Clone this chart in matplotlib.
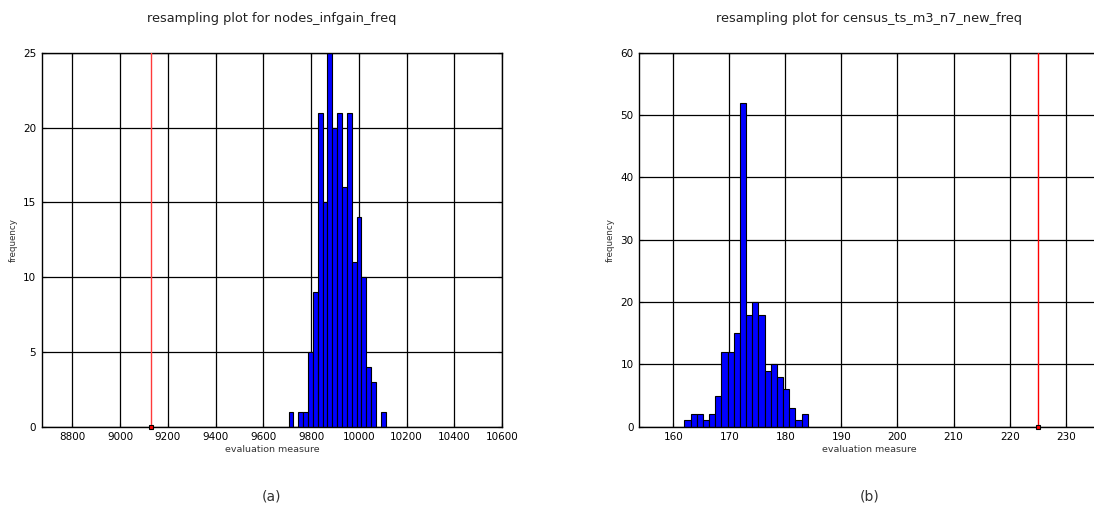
import numpy as np
import matplotlib.pyplot as plt

# histogram counts (20 bins each)
nodes_counts = [1, 0, 1, 1, 5, 9, 21, 15, 25, 20, 21, 16, 21, 11, 14, 10, 4, 3, 0, 1]
nodes_start, nodes_width = 9706, 20.35
nodes_value = 9128

census_counts = [1, 2, 2, 1, 2, 5, 12, 12, 15, 52, 18, 20, 18, 9, 10, 8, 6, 3, 1, 2]
census_start, census_width = 162.0, 1.1
census_value = 225

titles = ['resampling plot for nodes_infgain_freq',
          'resampling plot for census_ts_m3_n7_new_freq']
panel_labels = ['(a)', '(b)']

fig = plt.figure(figsize=(10.94, 5.13), dpi=100)
ax1 = fig.add_axes([0.0381, 0.1682, 0.4208, 0.7290])
ax2 = fig.add_axes([0.5841, 0.1682, 0.4208, 0.7290])


def draw(ax, counts, start, width, value, line_color, line_w):
    edges = start + width * np.arange(len(counts))
    ax.set_axisbelow(True)
    ax.grid(True, color='black', linewidth=0.9)
    ax.bar(edges, counts, width=width, align='edge', color='#0000ff',
           edgecolor='black', linewidth=0.8, zorder=2)
    ax.axvline(value, color=line_color, linewidth=line_w, zorder=3)
    ax.plot([value], [0], marker='s', markersize=3.5, markerfacecolor='red',
            markeredgecolor='black', markeredgewidth=0.8, zorder=4,
            clip_on=False)
    ax.tick_params(direction='in', length=3, labelsize=7.5, pad=4,
                   top=True, right=True, colors='black')
    for s in ax.spines.values():
        s.set_linewidth(1.0)
    ax.set_xlabel('evaluation measure', fontsize=6.8, labelpad=2,
                  color='#333333')
    ax.set_ylabel('frequency', fontsize=6.3, labelpad=4, color='#333333')


draw(ax1, nodes_counts, nodes_start, nodes_width, nodes_value, '#ff3a3a', 1.0)
ax1.set_xlim(8672, 10600)
ax1.set_xticks(np.arange(8800, 10601, 200))
ax1.set_ylim(0, 25)
ax1.set_yticks(np.arange(0, 26, 5))

draw(ax2, census_counts, census_start, census_width, census_value, 'red', 1.0)
ax2.set_xlim(153.9, 236)
ax2.set_xticks(np.arange(160, 231, 10))
ax2.set_ylim(0, 60)
ax2.set_yticks(np.arange(0, 61, 10))

for ax, t, lab in zip([ax1, ax2], titles, panel_labels):
    pos = ax.get_position()
    cx = pos.x0 + pos.width / 2
    fig.text(cx, 1 - 19 / 513, t, ha='center', va='center', fontsize=9.3,
             color='#222222')
    fig.text(cx, 1 - 497 / 513, lab, ha='center', va='center', fontsize=10,
             color='#333333')

plt.savefig('out.png', format='png', dpi=100)
